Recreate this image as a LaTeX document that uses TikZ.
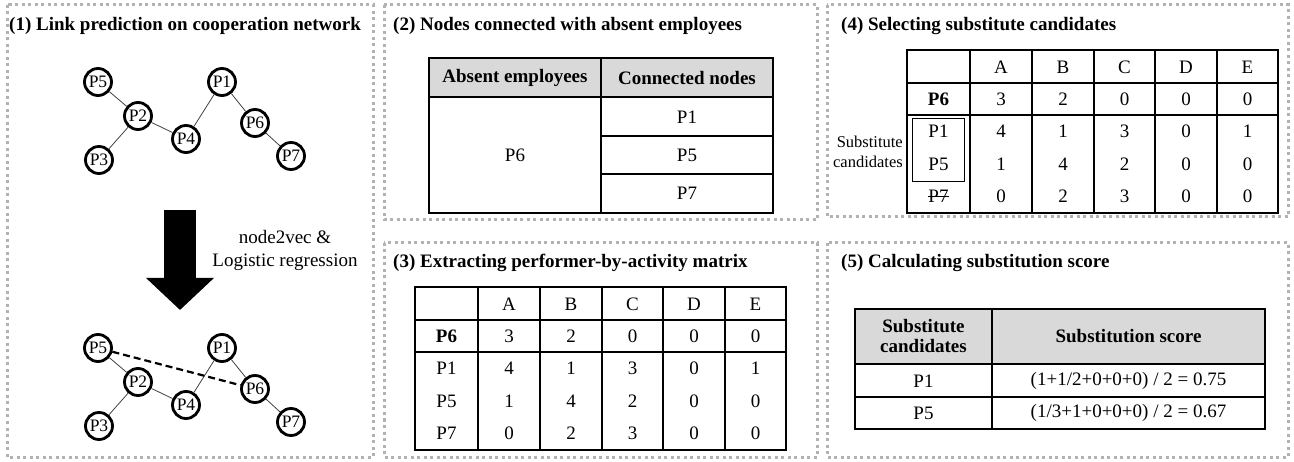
\documentclass[tikz,border=0pt]{standalone}
\usepackage{fontspec}
\setmainfont{Liberation Serif}
\usetikzlibrary{arrows.meta,calc,positioning}

\begin{document}
\begin{tikzpicture}[x=1pt, y=-1pt, font=\fontsize{19}{22}\selectfont]

\tikzset{
    panel/.style={draw=black!30, line width=3pt, dash pattern=on 3pt off 3.5pt},
    titolo/.style={anchor=west, inner sep=0pt, font=\fontsize{19}{22}\selectfont\bfseries},
    grassetto/.style={font=\fontsize{19}{22}\selectfont\bfseries},
    persona/.style={circle, draw, line width=2.8pt, minimum size=27pt, inner sep=0pt, fill=white, font=\fontsize{17.5}{20}\selectfont},
    legame/.style={draw=black!75, line width=0.8pt},
    tabella/.style={line width=1.1pt},
    testa/.style={fill=black!15},
    cella/.style={inner sep=0pt}
}

\useasboundingbox (0,0) rectangle (1294,462);

% Cornici
\draw[panel] (7,5) rectangle (373,457);
\draw[panel] (384,5) rectangle (817,220);
\draw[panel] (384,243) rectangle (817,457);
\draw[panel] (827,5) rectangle (1288,217);
\draw[panel] (827,243) rectangle (1288,457);

% Titoli
\node[titolo] (t1) at (9,26) {(1) Link prediction on cooperation network};
\node[titolo] (t2) at (393,26) {(2) Nodes connected with absent employees};
\node[titolo] (t3) at (393,263) {(3) Extracting performer-by-activity matrix};
\node[titolo] (t4) at (841,26) {(4) Selecting substitute candidates};
\node[titolo] (t5) at (841,263) {(5) Calculating substitution score};

% (1) Rete di cooperazione, prima e dopo
\foreach \g/\dy in {a/0, b/266}{
\begin{scope}[shift={(0,\dy)}]
    \node[persona] (\g5) at (98,82) {P5};
    \node[persona] (\g2) at (138,116) {P2};
    \node[persona] (\g3) at (99,160) {P3};
    \node[persona] (\g4) at (186,139) {P4};
    \node[persona] (\g1) at (222,82) {P1};
    \node[persona] (\g6) at (255,123) {P6};
    \node[persona] (\g7) at (291,156) {P7};
    \draw[legame] (\g5) -- (\g2);
    \draw[legame] (\g2) -- (\g3);
    \draw[legame] (\g2) -- (\g4);
    \draw[legame] (\g4) -- (\g1);
    \draw[legame] (\g1) -- (\g6);
    \draw[legame] (\g6) -- (\g7);
\end{scope}
}
% Link previsto
\draw[line width=2.2pt, dash pattern=on 7pt off 4pt] (b5) -- (b6);

% Freccia
\coordinate (fa) at (180,210);
\coordinate (fb) at (180,310);
\draw[line width=32pt, -{Triangle[width=66pt, length=32pt]}] (fa) -- (fb);
\node[align=center, font=\fontsize{19}{23}\selectfont] (algo) at (285,250.5) {node2vec \&\\Logistic regression};

% (2) Nodi connessi
\fill[testa] (429,58) rectangle (773,97);
\draw[tabella] (429,58) rectangle (773,213);
\draw[tabella] (601,58) -- (601,213);
\draw[tabella] (429,97) -- (773,97);
\draw[tabella] (601,136) -- (773,136) (601,174) -- (773,174);
\node[cella, grassetto] (h1) at (515,78) {Absent employees};
\node[cella, grassetto] (h2) at (687,78) {Connected nodes};
\node[cella] (c6) at (515,155.5) {P6};
\node[cella] (c1) at (687,117) {P1};
\node[cella] (c5) at (687,155.5) {P5};
\node[cella] (c7) at (687,193.5) {P7};

% (3) e (4) Matrice performer-attivita
\foreach \tab/\ox/\oy in {c/415/287, s/907/50}{
\begin{scope}[shift={(\ox,\oy)}]
    \draw[tabella] (0,0) rectangle (371,163);
    \draw[tabella] (0,33) -- (371,33) (0,65) -- (371,65);
    \foreach \x in {63,125,187,248,310} \draw[tabella] (\x,0) -- (\x,163);
    \foreach \t/\x [count=\j] in {A/94,B/156,C/217.5,D/279,E/340.5}
        \node[cella] (\tab-h\j) at (\x,17) {\t};
    \foreach \y/\a/\b/\c/\d/\e [count=\i] in {49/3/2/0/0/0, 81/4/1/3/0/1, 114/1/4/2/0/0, 146/0/2/3/0/0}
        \foreach \v/\x [count=\j] in {\a/94,\b/156,\c/217.5,\d/279,\e/340.5}
            \node[cella] (\tab-\i-\j) at (\x,\y) {\v};
    \node[cella, grassetto] (\tab-p6) at (31.5,49) {P6};
    \node[cella] (\tab-p1) at (31.5,81) {P1};
    \node[cella] (\tab-p5) at (31.5,114) {P5};
    \node[cella] (\tab-p7) at (31.5,146) {P7};
\end{scope}
}
% Candidati
\draw[line width=1pt] ($(s-p1)+(-26,-12)$) rectangle ($(s-p5)+(26,18)$);
\draw[line width=0.8pt] (s-p7.west) -- (s-p7.east);
\node[anchor=east, align=right, inner sep=0pt, font=\fontsize{16.5}{19.5}\selectfont] (cand) at (903,152) {Substitute\\candidates};

% (5) Punteggio
\fill[testa] (855,309) rectangle (1265,364);
\draw[tabella] (855,309) rectangle (1265,429);
\draw[tabella] (992,309) -- (992,429);
\draw[tabella] (855,364) -- (1265,364) (855,397) -- (1265,397);
\node[cella, align=center, font=\fontsize{19}{20}\selectfont\bfseries] (k1) at (923.5,336.5) {Substitute\\candidates};
\node[cella, grassetto] (k2) at (1128.5,336.5) {Substitution score};
\node[cella] (r1) at (923.5,381) {P1};
\node[cella] (v1) at (1128.5,381) {(1+1/2+0+0+0) / 2 = 0.75};
\node[cella] (r5) at (923.5,413) {P5};
\node[cella] (v5) at (1128.5,413) {(1/3+1+0+0+0) / 2 = 0.67};

\end{tikzpicture}
\end{document}
